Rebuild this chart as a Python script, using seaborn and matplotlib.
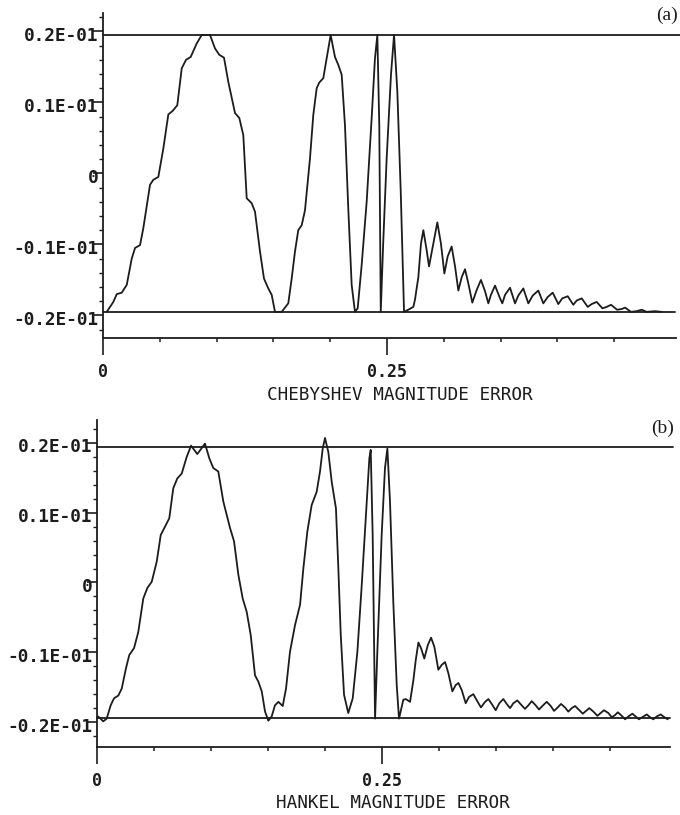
import numpy as np
import pandas as pd
import matplotlib
matplotlib.use("Agg")
import matplotlib.pyplot as plt
from matplotlib import transforms as mtrans
import seaborn as sns

# ---------------- data ----------------
freq_a = [
    .0033, .0091, .0121, .0165, .0209, .0253, .0282, .0326, .0355, .0414,
    .0443, .0487, .0531, .0575, .0613, .0654, .0693, .0731, .0772, .0825,
    .0869, .0942, .0986, .1024, .1065, .1103, .1162, .1200, .1235, .1265,
    .1309, .1338, .1382, .1417, .1455, .1485, .1514, .1573,
    .1631, .1661, .1690, .1719, .1749, .1778, .1822, .1851, .1881, .1904,
    .1939, .1969, .2004, .2042, .2071, .2101, .2130, .2159, .2189, .2218,
    .2242, .2277, .2321, .2365, .2394, .2415, .2432, .2445, .2467, .2497,
    .2535, .2562, .2591, .2621, .2650, .2687, .2732,
    .2746, .2776, .2799, .2820, .2849, .2870, .2908, .2943, .2975, .3005,
    .3034, .3069, .3099, .3128, .3158, .3187, .3216, .3251, .3290, .3327,
    .3363, .3392, .3415, .3451, .3495, .3515, .3539, .3583, .3627, .3656,
    .3700, .3744, .3783, .3832, .3876, .3915, .3959, .4008, .4043, .4091,
    .4140, .4170, .4214, .4267, .4302, .4346, .4396, .4434, .4472, .4525,
    .4566, .4595, .4648, .4698, .4742, .4786, .4859, .4918]
err_a = [
    -.0195, -.0181, -.0170, -.0168, -.0157, -.0120, -.0105, -.0101, -.0077, -.0016,
    -.0009, -.0005, .0035, .0083, .0088, .0096, .0148, .0160, .0164, .0183,
    .0195, .0195, .0176, .0167, .0163, .0129, .0085, .0078, .0054, -.0035,
    -.0042, -.0054, -.0110, -.0148, -.0162, -.0171, -.0195, -.0195,
    -.0183, -.0148, -.0110, -.0080, -.0073, -.0052, .0021, .0082, .0120, .0128,
    .0134, .0162, .0195, .0164, .0153, .0139, .0068, -.0049, -.0157, -.0195,
    -.0190, -.0129, -.0040, .0078, .0162, .0195, .0068, -.0195, -.0096, .0021,
    .0139, .0195, .0115, -.0026, -.0195, -.0192, -.0188,
    -.0178, -.0146, -.0099, -.0080, -.0108, -.0131, -.0099, -.0069, -.0099, -.0141,
    -.0117, -.0103, -.0131, -.0165, -.0146, -.0135, -.0155, -.0182, -.0164, -.0150,
    -.0166, -.0183, -.0171, -.0158, -.0176, -.0183, -.0171, -.0161, -.0183, -.0172,
    -.0162, -.0183, -.0172, -.0165, -.0183, -.0174, -.0168, -.0184, -.0176, -.0173,
    -.0185, -.0179, -.0176, -.0188, -.0184, -.0181, -.0190, -.0188, -.0185, -.0192,
    -.0191, -.0189, -.0195, -.0194, -.0192, -.0195, -.0194, -.0195]

freq_b = [
    .0011, .0055, .0085, .0120, .0149, .0187, .0217, .0254, .0283, .0325,
    .0362, .0406, .0441, .0480, .0524, .0559, .0596, .0634, .0669, .0704,
    .0743, .0787, .0825, .0880, .0947, .0985, .1020, .1064, .1108, .1167,
    .1202, .1240, .1278, .1313, .1348, .1386, .1415, .1445, .1474, .1503,
    .1532, .1561, .1591, .1629, .1658, .1693, .1737, .1781, .1810, .1845,
    .1883, .1927, .1956, .1980, .2000, .2029, .2059, .2096, .2117, .2138,
    .2167, .2204, .2243, .2284, .2322, .2357, .2389, .2401, .2418, .2439,
    .2459, .2497, .2526, .2547, .2570, .2599, .2629, .2649,
    .2687, .2708, .2746, .2775, .2796, .2819, .2842, .2871, .2901, .2930,
    .2959, .2994, .3024, .3053, .3082, .3117, .3146, .3170, .3199, .3234,
    .3263, .3301, .3339, .3368, .3404, .3433, .3462, .3497, .3529, .3564,
    .3594, .3623, .3652, .3687, .3725, .3754, .3784, .3813, .3848, .3877,
    .3912, .3945, .3980, .4009, .4041, .4070, .4105, .4134, .4164, .4193,
    .4231, .4261, .4289, .4318, .4354, .4389, .4418, .4447, .4485, .4515,
    .4544, .4568, .4603, .4632, .4661, .4696, .4725, .4754, .4792, .4822,
    .4851, .4880, .4909, .4944, .4976, .5006]
err_b = [
    -.0192, -.0199, -.0195, -.0176, -.0166, -.0162, -.0152, -.0123, -.0104, -.0094,
    -.0071, -.0023, -.0008, .0001, .0030, .0068, .0080, .0092, .0135, .0149,
    .0156, .0180, .0196, .0184, .0199, .0178, .0164, .0159, .0116, .0078,
    .0059, .0011, -.0023, -.0042, -.0075, -.0133, -.0142, -.0156, -.0185, -.0198,
    -.0192, -.0176, -.0171, -.0177, -.0152, -.0099, -.0061, -.0032, .0020, .0073,
    .0111, .0130, .0159, .0192, .0207, .0187, .0144, .0106, .0020, -.0075,
    -.0161, -.0187, -.0166, -.0099, -.0004, .0092, .0178, .0190, .0068, -.0195,
    -.0099, .0068, .0164, .0192, .0116, -.0028, -.0147, -.0195,
    -.0168, -.0167, -.0171, -.0140, -.0111, -.0086, -.0094, -.0109, -.0090, -.0079,
    -.0092, -.0125, -.0118, -.0114, -.0130, -.0156, -.0147, -.0144, -.0154, -.0173,
    -.0164, -.0160, -.0171, -.0179, -.0171, -.0167, -.0174, -.0183, -.0173, -.0167,
    -.0174, -.0180, -.0173, -.0169, -.0176, -.0181, -.0176, -.0170, -.0176, -.0182,
    -.0176, -.0171, -.0177, -.0184, -.0179, -.0174, -.0179, -.0185, -.0180, -.0177,
    -.0183, -.0188, -.0184, -.0180, -.0185, -.0191, -.0187, -.0183, -.0187, -.0193,
    -.0190, -.0186, -.0191, -.0196, -.0192, -.0188, -.0192, -.0196, -.0192, -.0189,
    -.0193, -.0196, -.0192, -.0189, -.0193, -.0196]

band_a = 0.0195
band_b = 0.0194
ytick_vals = [0.02, 0.01, 0.0, -0.01, -0.02]
ytick_labels = ["0.2E-01", "0.1E-01", "0", "-0.1E-01", "-0.2E-01"]
xtick_major = [0.0, 0.25]
xtick_major_labels = ["0", "0.25"]
xtick_minor = [0.05, 0.10, 0.15, 0.20, 0.30, 0.35, 0.40, 0.45]
titles = ["CHEBYSHEV MAGNITUDE ERROR", "HANKEL MAGNITUDE ERROR"]
panel_tags = ["(a)", "(b)"]

# ---------------- style ----------------
sns.set_style("ticks")
plt.rcParams['font.family'] = ['DejaVu Sans Mono', 'DejaVu Sans']
INK = '#1c1c1c'

W, H = 680, 815
fig = plt.figure(figsize=(W / 100, H / 100), dpi=100)
fig.patch.set_facecolor('white')


def add_px_axes(left, top, right, bottom):
    return fig.add_axes([left / W, 1 - bottom / H, (right - left) / W, (bottom - top) / H])


panels = [
    dict(box=(103, 13, 676, 338), xlim=(0, 0.5044), ylim=(-0.02318, 0.02259),
         freq=freq_a, err=err_a, band=band_a, up_end=0.508, lo_end=0.5035,
         title_xy=(400, 395), tag_xy=(667, 15)),
    dict(box=(97, 420, 670, 747), xlim=(0, 0.5026), ylim=(-0.02357, 0.02328),
         freq=freq_b, err=err_b, band=band_b, up_end=0.505, lo_end=0.5026,
         title_xy=(393, 803), tag_xy=(663, 428)),
]

for i, p in enumerate(panels):
    ax = add_px_axes(*p['box'])
    ax.set_facecolor('white')
    df = pd.DataFrame({'freq': p['freq'], 'err': p['err']})
    sns.lineplot(data=df, x='freq', y='err', ax=ax, color=INK, lw=1.3,
                 estimator=None, sort=False, solid_joinstyle='round')
    ax.set_xlim(*p['xlim'])
    ax.set_ylim(*p['ylim'])
    # tolerance band lines
    ax.plot([0, p['up_end']], [p['band'], p['band']], color=INK, lw=1.3, clip_on=False)
    ax.plot([0, p['lo_end']], [-p['band'], -p['band']], color=INK, lw=1.3, clip_on=False)

    for s in ['top', 'right']:
        ax.spines[s].set_visible(False)
    for s in ['left', 'bottom']:
        ax.spines[s].set_color(INK)
        ax.spines[s].set_linewidth(1.3)

    ax.set_xlabel('')
    ax.set_ylabel('')

    # x ticks
    ax.set_xticks(xtick_major, labels=xtick_major_labels)
    ax.set_xticks(xtick_minor, minor=True)
    ax.tick_params(axis='x', which='major', direction='out', length=12.2, width=1.2,
                   color=INK, pad=6, labelsize=12, labelcolor=INK)
    ax.tick_params(axis='x', which='minor', direction='out', length=3, width=1.1, color=INK)
    for lab in ax.get_xticklabels():
        lab.set_fontweight('bold')

    # y ticks
    ax.set_yticks(ytick_vals, labels=[''] * len(ytick_vals))
    ax.set_yticks(np.round(np.arange(-0.022, 0.0221, 0.002), 4), minor=True)
    ax.tick_params(axis='y', which='major', direction='out', length=7.2, width=1.2, color=INK)
    ax.tick_params(axis='y', which='minor', direction='out', length=3, width=1.0, color=INK)
    ytrans = mtrans.offset_copy(ax.get_yaxis_transform(), fig=fig, x=-4.5, y=-4.5, units='dots')
    for v, lab in zip(ytick_vals, ytick_labels):
        ax.text(0, v, lab, transform=ytrans, ha='right', va='center',
                fontsize=12.8, fontweight='bold', color=INK)

    tx, ty = p['title_xy']
    fig.text(tx / W, 1 - ty / H, titles[i], ha='center', va='center',
             fontsize=12.7, color=INK)
    gx, gy = p['tag_xy']
    fig.text(gx / W, 1 - gy / H, panel_tags[i], ha='center', va='center',
             fontsize=14, color=INK, family=['Liberation Serif', 'DejaVu Serif'])

fig.savefig('out.png', dpi=100, facecolor='white')
